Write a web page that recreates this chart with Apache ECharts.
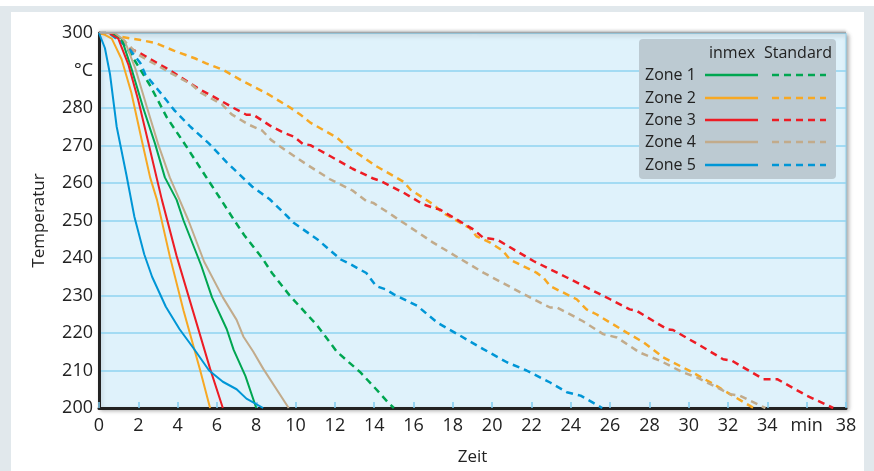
<!DOCTYPE html>
<html>
<head>
<meta charset="utf-8">
<title>Temperaturverlauf</title>
<script src="https://cdn.jsdelivr.net/npm/echarts@6/dist/echarts.min.js"></script>
<style>
  html, body { margin: 0; padding: 0; background: #fff; }
  #main { width: 874px; height: 471px; }
</style>
</head>
<body>
<div id="main"></div>
<script type="text/javascript">
// Messwerte [Zeit in min, Temperatur in °C]
var zone1Inmex = [[0,300],[0.6,300],[1.15,298.5],[1.65,290.5],[2.25,280],[2.85,270.5],[3.35,261.5],[3.95,255.5],[4.3,250],[4.9,242],[5.2,238],[5.75,229.5],[6.5,221],[6.85,215.5],[7.45,208.5],[8.0,200]];
var zone2Inmex = [[0,300],[0.3,299.5],[0.65,298.5],[1.15,293],[1.65,284],[2.15,272],[2.6,261.5],[2.95,255.5],[3.6,240.5],[4.3,226],[5.15,210],[5.65,200]];
var zone3Inmex = [[0,300],[0.5,300],[0.98,298.5],[1.5,291.5],[2.0,282],[2.5,271],[2.95,261],[3.2,255.5],[3.95,240.5],[4.8,225.5],[5.65,210.5],[6.3,200]];
var zone4Inmex = [[0,300],[0.8,300],[1.3,298],[1.85,290.5],[2.45,280],[3.0,270.5],[3.6,261.5],[4.1,255.5],[4.55,250],[5.35,239],[6.3,229.5],[7.0,223.5],[7.35,219],[7.85,215],[8.35,210.5],[9.65,200]];
var zone5Inmex = [[0,300],[0.3,296],[0.56,289],[0.9,275],[1.4,262],[1.8,251],[2.3,241],[2.7,235],[3.4,227],[4.1,221],[4.8,216],[5.6,210],[6.3,207],[7.0,205],[7.5,202.5],[8.35,200]];

var zone1Std = [[0,300],[0.6,300],[1.25,297.5],[1.6,294.5],[2.6,286],[3.45,277.5],[4.45,269.7],[5.4,262],[6.15,256],[6.85,250.3],[7.4,246],[8.3,240],[8.8,236],[9.7,230],[11.1,222],[12.1,215],[13.3,209.5],[14.1,205],[14.7,201.5],[15.0,200]];
var zone2Std = [[0,300],[0.5,300],[1.1,299],[2.05,298.2],[2.9,297.3],[3.8,295.3],[4.9,293.2],[5.45,291.9],[6.3,290.2],[7.3,287.2],[8.6,283.7],[9.7,280.2],[10.25,278.2],[10.75,276.1],[12.1,272.1],[12.77,269],[13.1,268.1],[14.1,264.5],[15.5,260.3],[15.85,258.2],[17.0,254.3],[17.5,252],[18.85,248],[19.2,245.8],[19.9,244.1],[20.55,241.9],[20.9,239.6],[22.25,236.1],[22.6,234.8],[22.95,232.5],[24.3,229],[24.8,226.3],[25.3,225],[26.85,220.1],[27.7,217.5],[28.7,213.5],[30.05,209.9],[31.25,206.4],[32.1,203.7],[33.3,200]];
var zone3Std = [[0,300],[0.6,300],[1.5,296],[2.1,294.6],[2.95,292],[3.4,290.7],[5.15,284.9],[5.8,283.1],[6.85,280],[7.5,278.2],[7.85,278.2],[8.7,275.3],[9.4,273.4],[9.9,272.4],[10.4,270.3],[10.75,270.1],[11.75,267.2],[12.9,263.8],[13.95,261.2],[14.3,260.6],[15.5,257.4],[16.5,254.3],[17.0,253.4],[17.35,252.9],[19.05,247.6],[19.55,245.4],[20.25,244.9],[22.1,239.2],[23.8,234.8],[26.0,229],[27.0,226.3],[27.35,225.9],[28.9,221],[29.2,220.8],[30.6,216.6],[31.75,213],[32.2,212.6],[33.8,207.7],[34.5,207.7],[36.0,203.3],[37.35,200]];
var zone4Std = [[0,300],[0.6,300],[1.3,297.8],[2.0,294.2],[3.35,290.2],[4.7,286.3],[5.2,284],[6.25,281],[6.75,278.3],[7.6,275.6],[8.3,274],[8.75,271.5],[9.55,268.5],[10.55,265],[11.75,261],[12.9,258],[13.6,255.2],[13.95,254.7],[15.0,251.1],[17.0,244.1],[19.55,236.1],[22.1,229],[22.95,226.8],[23.3,226.8],[24.6,223.2],[25.65,219.7],[26.35,218.8],[27.5,214.8],[28.55,212.6],[29.7,209.5],[30.4,208.2],[32.1,203.7],[32.6,203.3],[33.9,200]];
var zone5Std = [[0,300],[0.5,300],[1.0,298],[1.5,296],[2.1,292],[2.35,289],[3.2,283.6],[3.85,279.3],[4.65,275],[5.6,270.5],[6.5,265.5],[7.1,262.5],[7.8,259],[8.7,255.6],[9.6,251],[9.9,249.4],[11.1,245],[12.3,239.6],[12.8,238.3],[13.6,236],[14.1,232.5],[14.6,231.6],[15.0,230.3],[16.2,227.2],[17.2,222.8],[18.4,219.2],[19.55,215.7],[20.75,212.2],[21.75,210],[22.95,206.8],[23.8,204.2],[24.5,203.3],[25.6,200]];

var zoneNames = ['Zone 1', 'Zone 2', 'Zone 3', 'Zone 4', 'Zone 5'];
var zoneColors = ['#00a651', '#f7a823', '#ed1c24', '#c2ab8b', '#0096d6'];
var inmexData = [zone1Inmex, zone2Inmex, zone3Inmex, zone4Inmex, zone5Inmex];
var stdData = [zone1Std, zone2Std, zone3Std, zone4Std, zone5Std];

var fontFam = "'Open Sans', 'Noto Sans', sans-serif";

var myChart = echarts.init(document.getElementById('main'));

var series = [];
for (var i = 0; i < 5; i++) {
    series.push({
        name: zoneNames[i] + ' Standard', type: 'line', data: stdData[i],
        showSymbol: false, symbol: 'none', z: 2,
        lineStyle: { color: zoneColors[i], width: 2.5, type: [7, 5] }
    });
}
for (var j = 0; j < 5; j++) {
    series.push({
        name: zoneNames[j] + ' inmex', type: 'line', data: inmexData[j],
        showSymbol: false, symbol: 'none', z: 3,
        lineStyle: { color: zoneColors[j], width: 2 }
    });
}

// Legende als Tabelle (Zeilen: Zonen, Spalten: inmex / Standard)
var legendItems = [
    { type: 'rect', shape: { x: 639, y: 39, width: 197, height: 140, r: 4 }, style: { fill: '#bccad2' }, z: 10 },
    { type: 'text', style: { x: 732, y: 53, text: 'inmex', fill: '#222', font: '16px ' + fontFam, textAlign: 'center', textVerticalAlign: 'middle' }, z: 11 },
    { type: 'text', style: { x: 798, y: 53, text: 'Standard', fill: '#222', font: '16px ' + fontFam, textAlign: 'center', textVerticalAlign: 'middle' }, z: 11 }
];
var rowY = [75, 98, 120, 142, 165];
for (var k = 0; k < 5; k++) {
    legendItems.push({ type: 'text', style: { x: 645, y: rowY[k], text: zoneNames[k], fill: '#222', font: '16px ' + fontFam, textVerticalAlign: 'middle' }, z: 11 });
    legendItems.push({ type: 'line', shape: { x1: 705, y1: rowY[k], x2: 758, y2: rowY[k] }, style: { stroke: zoneColors[k], lineWidth: 2.5 }, z: 11 });
    legendItems.push({ type: 'line', shape: { x1: 772, y1: rowY[k], x2: 826, y2: rowY[k] }, style: { stroke: zoneColors[k], lineWidth: 2.5, lineDash: [7, 5] }, z: 11 });
}

var frame = [
    { type: 'rect', shape: { x: 0, y: 6, width: 874, height: 6 }, style: { fill: '#e1e8ec' }, z: -10 },
    { type: 'rect', shape: { x: 0, y: 6, width: 11, height: 465 }, style: { fill: '#e1e8ec' }, z: -10 },
    { type: 'rect', shape: { x: 864, y: 6, width: 10, height: 465 }, style: { fill: '#e1e8ec' }, z: -10 },
    // obere Kante der Zeichenfläche
    { type: 'line', shape: { x1: 99, y1: 32.5, x2: 846, y2: 32.5 }, style: { stroke: '#a3a7aa', lineWidth: 1.5, shadowColor: 'rgba(0,0,0,0.3)', shadowBlur: 3, shadowOffsetY: -1 }, z: 5 }
];

var option = {
    backgroundColor: '#ffffff',
    animation: false,
    grid: {
        left: 99, right: 28, top: 33, bottom: 62,
        show: true,
        backgroundColor: '#dff2fb',
        borderColor: '#8fd3f1',
        borderWidth: 1,
        shadowColor: 'rgba(0,0,0,0.35)',
        shadowBlur: 4,
        shadowOffsetX: 2,
        shadowOffsetY: 2
    },
    xAxis: {
        type: 'value', min: 0, max: 38, interval: 2,
        name: 'Zeit', nameLocation: 'middle', nameGap: 41,
        nameTextStyle: { fontFamily: fontFam, fontSize: 17, color: '#222' },
        axisLine: { show: true, onZero: false, lineStyle: { color: '#222', width: 3 } },
        axisTick: { show: true, inside: true, length: 6, lineStyle: { color: '#7fcbef', width: 1.5 } },
        splitLine: { show: false },
        axisLabel: {
            margin: 9, fontFamily: fontFam, fontSize: 18, color: '#222',
            formatter: function (v) { return v === 36 ? 'min' : v; }
        }
    },
    yAxis: {
        type: 'value', min: 200, max: 300, interval: 10,
        name: 'Temperatur', nameLocation: 'middle', nameGap: 51,
        nameTextStyle: { fontFamily: fontFam, fontSize: 17, color: '#222' },
        axisLine: { show: true, onZero: false, lineStyle: { color: '#222', width: 3 } },
        axisTick: { show: false },
        splitLine: { show: true, lineStyle: { color: '#8fd3f1', width: 1.5 } },
        axisLabel: {
            margin: 6, fontFamily: fontFam, fontSize: 18, color: '#222',
            formatter: function (v) { return v === 290 ? '°C' : v; }
        }
    },
    graphic: frame.concat(legendItems),
    series: series
};

myChart.setOption(option);
</script>
</body>
</html>
